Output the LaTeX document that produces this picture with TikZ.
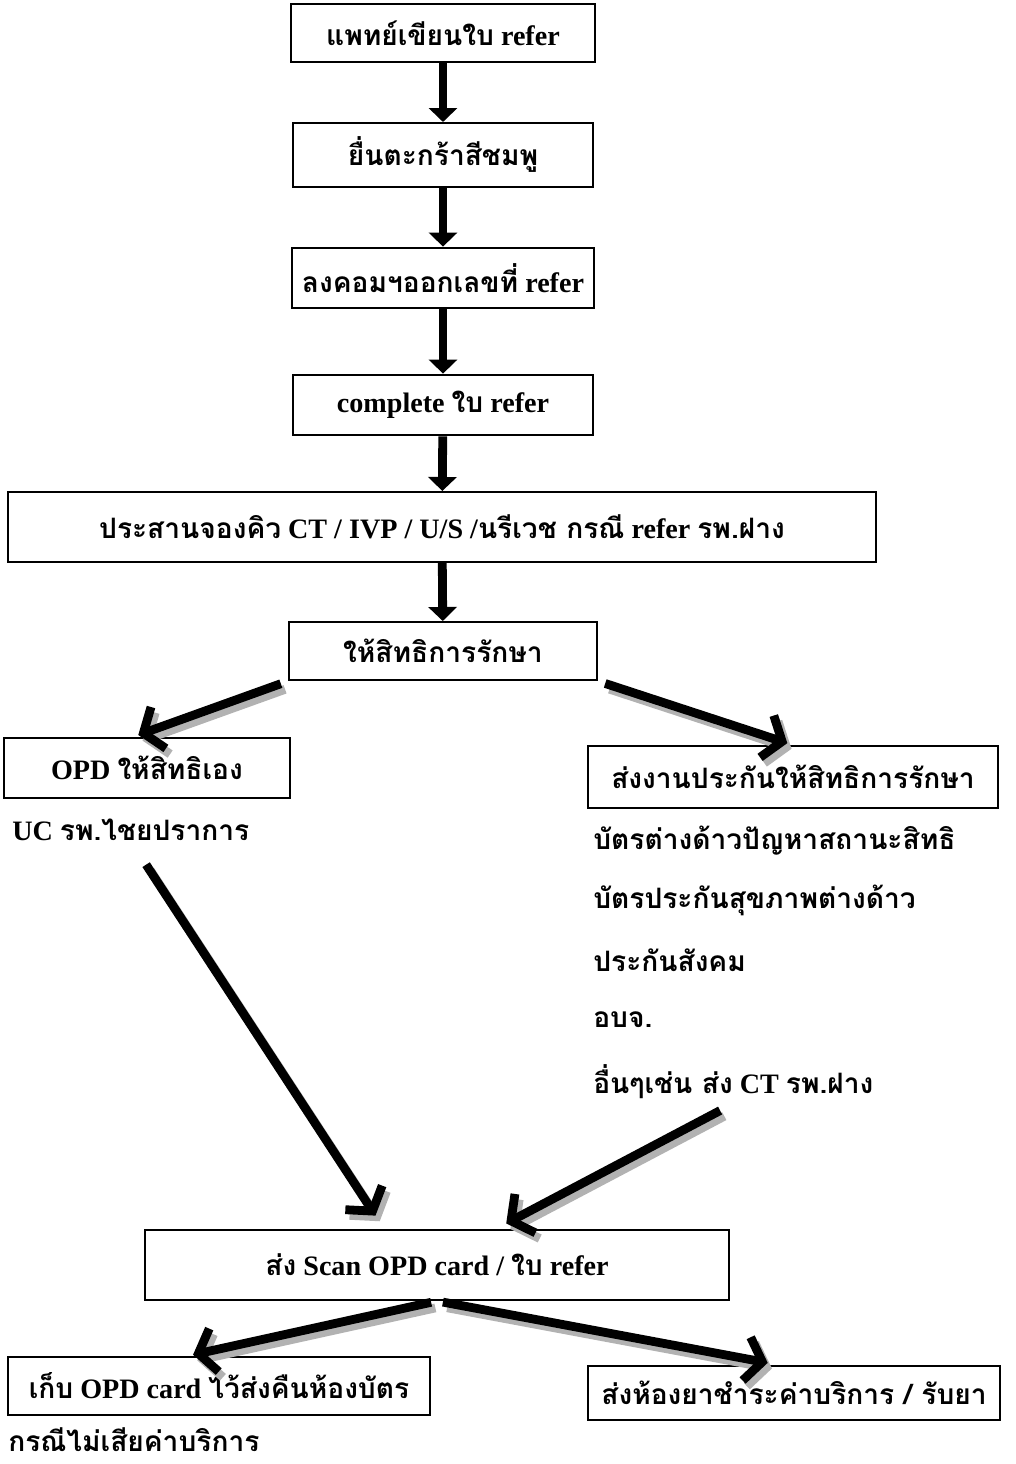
\documentclass[tikz,border=0pt]{standalone}
\usepackage{fontspec}
\setmainfont{Liberation Serif}
\newfontfamily\thaifont[Script=Thai]{Loma}
\newcommand{\thai}[1]{{\thaifont #1}}
\usetikzlibrary{arrows.meta}
\usetikzlibrary{calc}
\usetikzlibrary{positioning}
\tikzstyle{box}=[rectangle, draw=black, line width=1.4pt, fill=white, inner sep=2pt, font=\bfseries\fontsize{20}{24}\selectfont]
\tikzstyle{note}=[anchor=west, inner sep=0pt, font=\bfseries\fontsize{20}{24}\selectfont]
\tikzstyle{down}=[-{Triangle[length=0.35cm,width=0.7cm]}, line width=0.22cm]
\tikzstyle{flow}=[-{Straight Barb[length=0.4cm,width=1.1cm]}, line width=0.22cm, preaction={draw=gray!60, line width=0.22cm, transform canvas={shift={(3pt,-4pt)}}}]

\begin{document}
\begin{tikzpicture}[x=0.025cm, y=-0.025cm]
	\useasboundingbox (0,0) rectangle (1016,1464);
	% main chain
	\node (S1) at (443,33) [box, minimum width=7.6cm, minimum height=1.45cm] {\thai{แพทย์เขียนใบ} refer};
	\node (S2) at (443,155) [box, minimum width=7.5cm, minimum height=1.6cm] {\thai{ยื่นตะกร้าสีชมพู}};
	\node (S3) at (443,278) [box, minimum width=7.55cm, minimum height=1.52cm] {\thai{ลงคอมฯออกเลขที่} refer};
	\node (S4) at (443,405) [box, minimum width=7.5cm, minimum height=1.52cm] {complete \thai{ใบ} refer};
	\node (S5) at (442,527) [box, minimum width=21.7cm, minimum height=1.75cm] {\thai{ประสานจองคิว} CT / IVP / U/S /\thai{นรีเวช กรณี} refer \thai{รพ.ฝาง}};
	\node (S6) at (443,651) [box, minimum width=7.68cm, minimum height=1.45cm] {\thai{ให้สิทธิการรักษา}};
	% left branch
	\node (L1) at (147,768) [box, minimum width=7.13cm, minimum height=1.5cm] {OPD \thai{ให้สิทธิเอง}};
	\node (LT1) at (12,830) [note] {UC \thai{รพ.ไชยปราการ}};
	% right branch
	\node (R1) at (793,777) [box, minimum width=10.25cm, minimum height=1.55cm] {\thai{ส่งงานประกันให้สิทธิการรักษา}};
	\node (RT1) at (593,841) [note] {\thai{บัตรต่างด้าวปัญหาสถานะสิทธิ}};
	\node (RT2) at (593,900) [note] {\thai{บัตรประกันสุขภาพต่างด้าว}};
	\node (RT3) at (593,960) [note] {\thai{ประกันสังคม}};
	\node (RT4) at (593,1020) [note] {\thai{อบจ.}};
	\node (RT5) at (593,1082) [note] {\thai{อื่นๆเช่น ส่ง} CT \thai{รพ.ฝาง}};
	% bottom
	\node (S7) at (437,1265) [box, minimum width=14.6cm, minimum height=1.75cm] {\thai{ส่ง} Scan OPD card / \thai{ใบ} refer};
	\node (L2) at (219,1386) [box, minimum width=10.55cm, minimum height=1.45cm] {\thai{เก็บ} OPD card \thai{ไว้ส่งคืนห้องบัตร}};
	\node (LT2) at (8,1440) [note] {\thai{กรณีไม่เสียค่าบริการ}};
	\node (R2) at (794,1393) [box, minimum width=10.3cm, minimum height=1.35cm] {\thai{ส่งห้องยาชำระค่าบริการ / รับยา}};

	\path[down]
		(S1) edge (S2)
		(S2) edge (S3)
		(S3) edge (S4)
		(S4) edge (S5)
		(S5) edge (S6);
	\draw[flow, shorten <= 0.2cm, shorten >= 0.15cm] (S6.south west) -- ($(L1.north)!0.1!(L1.north west)$);
	\draw[flow, shorten <= 0.2cm, shorten >= 0.15cm] (S6.south east) -- (R1.north);
	\draw[flow, shorten <= 0.7cm, shorten >= 0.4cm] (LT1.south) -- ($(S7.north)!0.18!(S7.north west)$);
	\draw[flow, shorten <= 0.6cm, shorten >= 0.3cm] ($(RT5.south)+(8,0)$) -- ($(S7.north)!0.2!(S7.north east)$);
	\draw[flow, shorten <= 0.15cm, shorten >= 0.15cm] (S7.south) -- ($(L2.north)!0.15!(L2.north west)$);
	\draw[flow, shorten <= 0.15cm, shorten >= 0.3cm] (S7.south) -- ($(R2.north)!0.07!(R2.north west)$);
\end{tikzpicture}
\end{document}
